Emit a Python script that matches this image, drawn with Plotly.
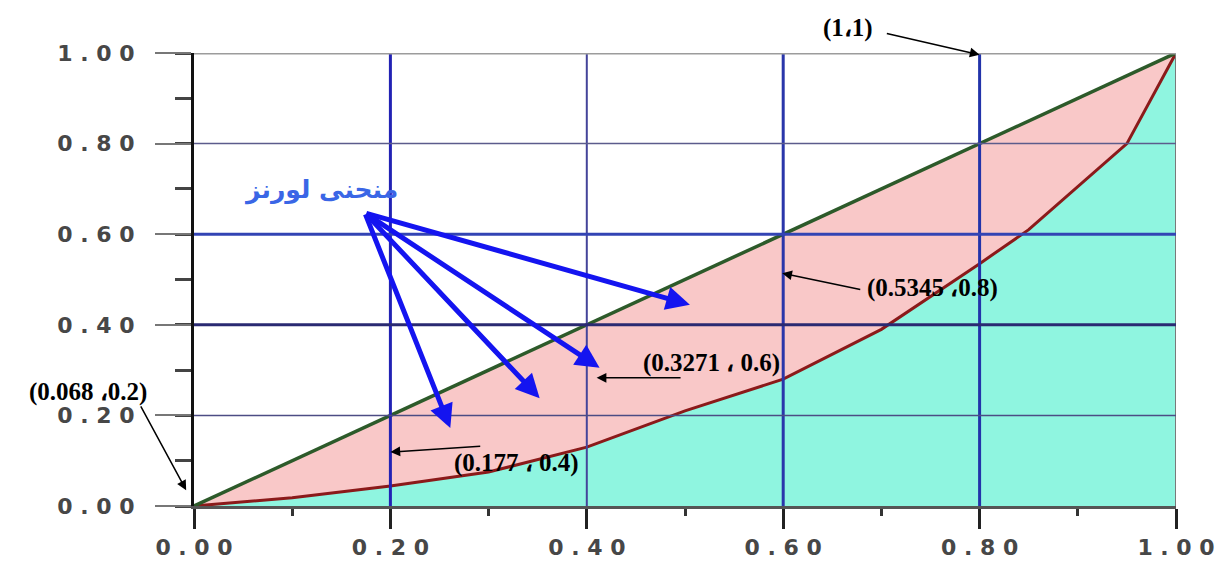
import plotly.graph_objects as go

# Lorenz curve
pop_share = [0.0, 0.1, 0.2, 0.3, 0.4, 0.5, 0.6, 0.7, 0.8, 0.85, 0.95, 1.0]
income_share = [0.0, 0.018, 0.044, 0.075, 0.13, 0.21, 0.28, 0.39, 0.535, 0.61, 0.80, 1.0]
equality_x = [0.0, 1.0]
equality_y = [0.0, 1.0]

tick_vals = [0.0, 0.2, 0.4, 0.6, 0.8, 1.0]
tick_text = ["0 . 0 0", "0 . 2 0", "0 . 4 0", "0 . 6 0", "0 . 8 0", "1 . 0 0"]

point_labels = ["(1،1)", "(0.068 ،0.2)", "(0.177 ، 0.4)", "(0.3271 ، 0.6)", "(0.5345 ،0.8)"]
curve_label = "منحنى لورنز"

PLOT_W, PLOT_H = 982, 453  # plot area in pixels, used for arrow offsets

fig = go.Figure()

# area under the Lorenz curve
fig.add_trace(go.Scatter(
    x=pop_share, y=income_share, mode="lines",
    line=dict(color="#8b1a1a", width=3),
    fill="tozeroy", fillcolor="rgb(143,245,224)",
    showlegend=False, hoverinfo="skip"
))
# equality line, pink between the two
fig.add_trace(go.Scatter(
    x=equality_x, y=equality_y, mode="lines",
    line=dict(color="#2d5a2a", width=3.5),
    fill="tonexty", fillcolor="rgb(249,200,200)",
    showlegend=False, hoverinfo="skip"
))

# grid lines, each drawn with its own weight like the original
vgrid = [(0.2, "#2222b4", 3), (0.4, "#44449a", 2), (0.6, "#2a36aa", 3), (0.8, "#2233aa", 3), (1.0, "#7a7a7a", 2)]
hgrid = [(1.0, "#9c9c9c", 3), (0.8, "#5c5c8c", 1.5), (0.6, "#3344b4", 3), (0.4, "#2a2a72", 3), (0.2, "#4c4c84", 1.5)]
for xv, col, w in vgrid:
    fig.add_shape(type="line", x0=xv, x1=xv, y0=0, y1=1, xref="x", yref="y",
                  line=dict(color=col, width=w), layer="above")
for yv, col, w in hgrid:
    fig.add_shape(type="line", x0=0, x1=1, y0=yv, y1=yv, xref="x", yref="y",
                  line=dict(color=col, width=w), layer="above")


def arrow(head, tail, color, width, size):
    # paper coords (axis range is 0..1), tail given as pixel offset
    fig.add_annotation(x=head[0], y=head[1], xref="paper", yref="paper",
                       ax=(tail[0] - head[0]) * PLOT_W, ay=-(tail[1] - head[1]) * PLOT_H,
                       text="", showarrow=True, arrowhead=2, arrowsize=size,
                       arrowwidth=width, arrowcolor=color)


# blue arrows from the curve label
blue_tail = (0.174, 0.647)
blue_heads = [(0.505, 0.444), (0.413, 0.305), (0.352, 0.238), (0.261, 0.172)]
for h in blue_heads:
    arrow(h, blue_tail, "#1414f0", 5, 0.95)
fig.add_annotation(x=0.129, y=0.698, xref="paper", yref="paper", text=curve_label,
                   showarrow=False, xanchor="center", yanchor="middle",
                   font=dict(family="DejaVu Sans", size=25, color="#3a66e6", weight="bold"))

# black arrows pointing at the labelled points
label_pos = [(0.666, 1.055), (-0.108, 0.252), (0.328, 0.095), (0.527, 0.316), (0.752, 0.481)]
arrow_tails = [(0.704, 1.044), (-0.055, 0.223), (0.293, 0.132), (0.497, 0.283), (0.680, 0.477)]
arrow_heads = [(0.800, 0.996), (-0.008, 0.035), (0.200, 0.119), (0.410, 0.283), (0.599, 0.514)]
for txt, (tx, ty), tail, head in zip(point_labels, label_pos, arrow_tails, arrow_heads):
    arrow(head, tail, "black", 1.5, 1.3)
    fig.add_annotation(x=tx, y=ty, xref="paper", yref="paper", text=txt, showarrow=False,
                       xanchor="center", yanchor="middle",
                       font=dict(family="Liberation Serif", size=25, color="black", weight="bold"))

tick_font = dict(family="DejaVu Sans", size=22, color="#474747", weight="bold")
fig.update_xaxes(
    range=[0, 1], tickvals=tick_vals, ticktext=tick_text, showgrid=False, zeroline=False,
    showline=True, linecolor="#555555", linewidth=3, automargin=False,
    ticks="outside", ticklen=20, tickwidth=3, tickcolor="#222222",
    ticklabelstandoff=0, tickfont=tick_font,
    minor=dict(dtick=0.1, tick0=0, ticks="outside", ticklen=7, tickwidth=3, tickcolor="#333333")
)
fig.update_yaxes(
    range=[0, 1], tickvals=tick_vals, ticktext=tick_text, showgrid=False, zeroline=False,
    showline=True, linecolor="#111111", linewidth=3, automargin=False,
    ticks="outside", ticklen=36, tickwidth=2, tickcolor="#777777",
    ticklabelstandoff=16, tickfont=tick_font,
    minor=dict(dtick=0.1, tick0=0, ticks="outside", ticklen=16, tickwidth=3, tickcolor="#444444")
)
# the page adds an 8px body margin, so the figure is a bit smaller than the window
fig.update_layout(
    width=1220, height=555,
    margin=dict(l=186, r=52, t=45, b=57),
    plot_bgcolor="white", paper_bgcolor="white",
    showlegend=False
)

fig.write_html("out.html")
